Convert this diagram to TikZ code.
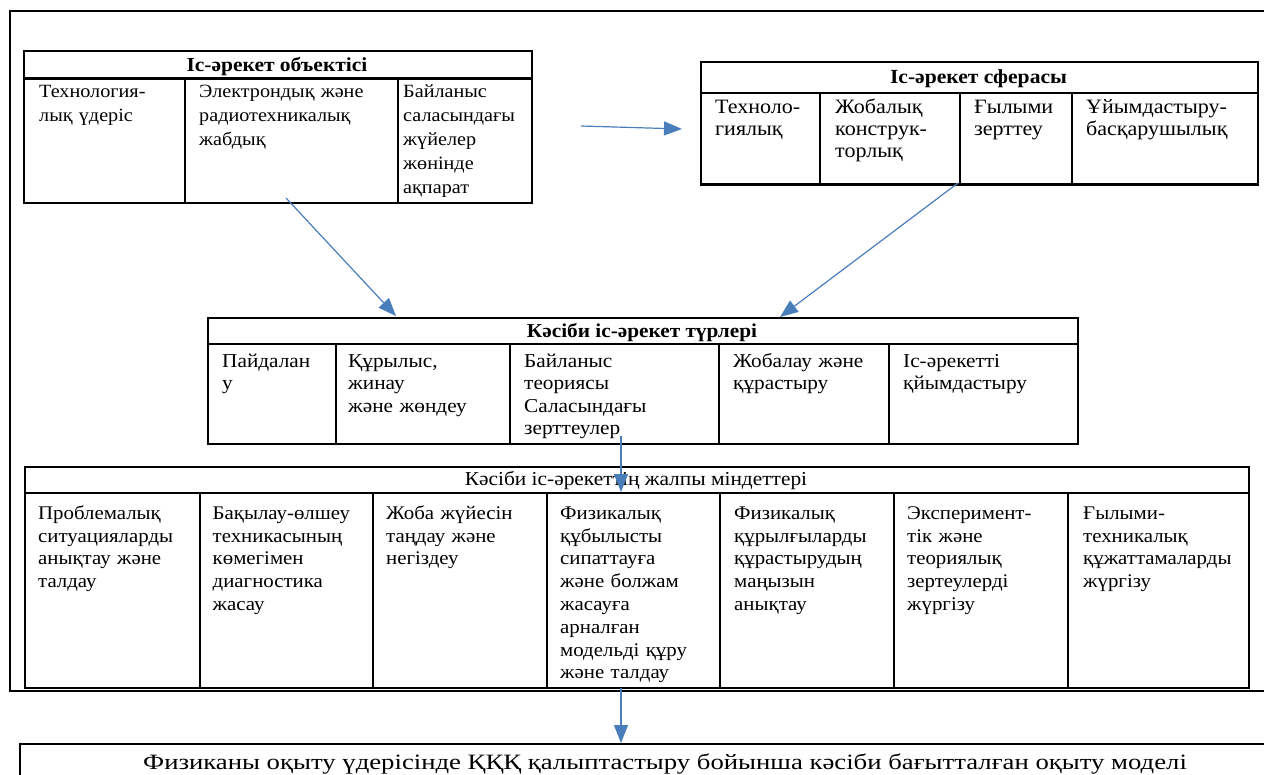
\documentclass[tikz,border=0pt]{standalone}
\usepackage{fontspec}
\setmainfont{Liberation Serif}
\newfontfamily\cellfont[FakeStretch=1.08]{Liberation Serif}
\newfontfamily\finalfont[FakeStretch=1.22]{Liberation Serif}
\usetikzlibrary{arrows.meta}
\definecolor{arrowblue}{RGB}{74,126,187}
\tikzset{
  cell/.style={draw, line width=2.3pt, anchor=north west, inner sep=0pt},
  frm/.style={draw, line width=2pt, anchor=north west, inner sep=0pt},
  ctxt/.style={anchor=north west, align=left, inner sep=0pt, text width=300pt,
    execute at begin node={\rule{0pt}{17pt}}},
  objtxt/.style={ctxt, font=\cellfont\fontsize{18.7}{24}\selectfont},
  sphtxt/.style={ctxt, font=\cellfont\fontsize{20.4}{22}\selectfont},
  typtxt/.style={ctxt, font=\cellfont\fontsize{19.7}{22.5}\selectfont},
  tsktxt/.style={ctxt, font=\cellfont\fontsize{19.3}{22.8}\selectfont},
  hdrtxt/.style={anchor=base, inner sep=0pt},
  arr/.style={draw=arrowblue, line width=1.2pt, -{Triangle[length=18pt,width=14pt]}},
}
% #1 style, #2 name, #3 x1, #4 y1, #5 x2, #6 y2, #7 indent, #8 first baseline, #9 text
\newcommand\mkcell[9][objtxt]{%
  \node[cell, minimum width={#5pt-#3pt}, minimum height={#6pt-#4pt}] (#2) at (#3,#4) {};
  \node[#1] (#2t) at ({#3+#7},{#8-17}) {#9};
}
\begin{document}
\begin{tikzpicture}[x=1pt,y=-1pt]
\useasboundingbox (0,0) rectangle (1264,774);
% outer frame
\node[frm, minimum width=1290pt, minimum height=680pt] (frame) at (9,10) {};
% final box
\node[cell, minimum width=1290pt, minimum height=60pt] (model) at (18.5,743) {};
\node[hdrtxt, font=\finalfont\fontsize{21.9}{24}\selectfont] (modelt) at (665,769)
  {Физиканы оқыту үдерісінде ҚҚҚ қалыптастыру бойынша кәсіби бағытталған оқыту моделі};

% top-left table
\node[cell, minimum width=508pt, minimum height=27.3pt] (objh) at (23,50) {};
\node[hdrtxt, font=\cellfont\bfseries\fontsize{19.9}{22}\selectfont] (objht) at (277,71.5) {Іс-әрекет объектісі};
\mkcell[objtxt]{obj1}{23}{77.3}{184}{202}{16}{97}{Технология-\\лық үдеріс}
\mkcell[objtxt]{obj2}{184}{77.3}{397}{202}{15}{97}{Электрондық және\\радиотехникалық\\жабдық}
\mkcell[objtxt]{obj3}{397}{77.3}{531}{202}{6}{97}{Байланыс\\саласындағы\\жүйелер\\жөнінде\\ақпарат}

% top-right table
\node[cell, minimum width=557pt, minimum height=30.5pt] (sphh) at (700,61) {};
\node[hdrtxt, font=\cellfont\bfseries\fontsize{20}{22}\selectfont] (sphht) at (978.5,83) {Іс-әрекет сферасы};
\mkcell[sphtxt]{sph1}{700}{91.5}{819}{183.3}{15}{113}{Техноло-\\гиялық}
\mkcell[sphtxt]{sph2}{819}{91.5}{959}{183.3}{16}{113}{Жобалық\\конструк-\\торлық}
\mkcell[sphtxt]{sph3}{959}{91.5}{1071}{183.3}{15}{113}{Ғылыми\\зерттеу}
\mkcell[sphtxt]{sph4}{1071}{91.5}{1257}{183.3}{15}{113}{Ұйымдастыру-\\басқарушылық}

% middle table
\node[cell, minimum width=870pt, minimum height=26pt] (typh) at (207,317) {};
\node[hdrtxt, font=\cellfont\bfseries\fontsize{19.7}{22}\selectfont] (typht) at (642,337) {Кәсіби іс-әрекет түрлері};
\mkcell[typtxt]{typ1}{207}{343}{335}{443}{15}{367}{Пайдалан\\у}
\mkcell[typtxt]{typ2}{335}{343}{509}{443}{13}{367}{Құрылыс,\\жинау\\және жөндеу}
\mkcell[typtxt]{typ3}{509}{343}{718}{443}{15}{367}{Байланыс\\теориясы\\Саласындағы\\зерттеулер}
\mkcell[typtxt]{typ4}{718}{343}{888}{443}{15}{367}{Жобалау және\\құрастыру}
\mkcell[typtxt]{typ5}{888}{343}{1077}{443}{15}{367}{Іс-әрекетті\\қйымдастыру}

% bottom table
\node[cell, minimum width=1224pt, minimum height=25.7pt] (tskh) at (24,466) {};
\node[hdrtxt, font=\cellfont\fontsize{19.8}{22}\selectfont] (tskht) at (636,485.5) {Кәсіби іс-әрекеттің жалпы міндеттері};
\mkcell[tsktxt]{tsk1}{24}{491.7}{198.5}{687}{14}{519}{Проблемалық\\ситуацияларды\\анықтау және\\талдау}
\mkcell[tsktxt]{tsk2}{198.5}{491.7}{372}{687}{14}{519}{Бақылау-өлшеу\\техникасының\\көмегімен\\диагностика\\жасау}
\mkcell[tsktxt]{tsk3}{372}{491.7}{546}{687}{14}{519}{Жоба жүйесін\\таңдау және\\негіздеу}
\mkcell[tsktxt]{tsk4}{546}{491.7}{719}{687}{14}{519}{Физикалық\\құбылысты\\сипаттауға\\және болжам\\жасауға\\арналған\\модельді құру\\және талдау}
\mkcell[tsktxt]{tsk5}{719}{491.7}{893}{687}{15}{519}{Физикалық\\құрылғыларды\\құрастырудың\\маңызын\\анықтау}
\mkcell[tsktxt]{tsk6}{893}{491.7}{1067}{687}{14}{519}{Эксперимент-\\тік және\\теориялық\\зертеулерді\\жүргізу}
\mkcell[tsktxt]{tsk7}{1067}{491.7}{1248}{687}{16}{519}{Ғылыми-\\техникалық\\құжаттамаларды\\жүргізу}

% arrow end points
\coordinate (a1s) at (581,126);
\coordinate (a1e) at (682,129);
\coordinate (a2s) at (286,198);
\coordinate (a2e) at (396,316);
\coordinate (a3s) at (958,183);
\coordinate (a3e) at (780,317);
\coordinate (a4s) at (621,436);
\coordinate (a4e) at (621,492);
\coordinate (a5s) at (621,688);
\coordinate (a5e) at (621,743);
\draw[arr] (a1s) -- (a1e);
\draw[arr] (a2s) -- (a2e);
\draw[arr] (a3s) -- (a3e);
\draw[arr] (a4s) -- (a4e);
\draw[arr] (a5s) -- (a5e);
\end{tikzpicture}
\end{document}
